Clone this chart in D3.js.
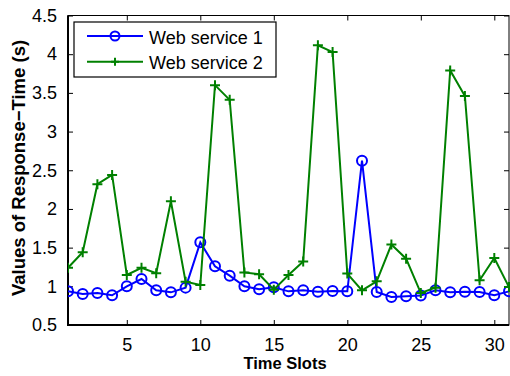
<!DOCTYPE html>
<html>
<head>
<meta charset="utf-8">
<script src="https://cdn.jsdelivr.net/npm/d3@7"></script>
<style>
  body { margin: 0; background: #fff; }
  svg text { font-family: "Liberation Sans", Arial, Helvetica, sans-serif; fill: #000; }
</style>
</head>
<body>
<div id="chart"></div>
<script>
// time slots and response times
var slots = d3.range(1, 32);
var ws1 = [0.935, 0.90, 0.913, 0.884, 1.0, 1.094, 0.948, 0.922, 0.983, 1.568,
           1.258, 1.138, 1.0, 0.961, 0.987, 0.935, 0.948, 0.93, 0.94, 0.935,
           2.624, 0.927, 0.862, 0.871, 0.88, 0.948, 0.922, 0.93, 0.927, 0.884, 0.935];
var ws2 = [1.24, 1.44, 2.32, 2.44, 1.146, 1.24, 1.17, 2.10, 1.06, 1.017,
           3.60, 3.41, 1.18, 1.155, 0.957, 1.146, 1.32, 4.114, 4.027, 1.164,
           0.948, 1.065, 1.539, 1.357, 0.913, 0.983, 3.79, 3.46, 1.078, 1.366, 0.99];
var xTicks = [5, 10, 15, 20, 25, 30];
var yTicks = [0.5, 1, 1.5, 2, 2.5, 3, 3.5, 4, 4.5];
var seriesNames = ["Web service 1", "Web service 2"];

var W = 510, H = 376;
var pl = 68, pr = 509, pt = 15.5, pb = 325;

var svg = d3.select("#chart").append("svg")
    .attr("width", W).attr("height", H);

var x = d3.scaleLinear().domain([1, 31]).range([pl, pr]);
var y = d3.scaleLinear().domain([0.5, 4.5]).range([pb, pt]);

// tick marks inside on all four sides (matlab box)
svg.append("g").attr("transform", "translate(0," + pb + ")")
    .call(d3.axisBottom(x).tickValues(xTicks).tickSize(-5).tickPadding(13))
    .call(function(g){
        g.select(".domain").remove();
        g.selectAll("line").attr("stroke", "#000");
        g.selectAll("text").style("font-size", "18px").attr("dy", "0.71em");
    });
svg.append("g").attr("transform", "translate(0," + pt + ")")
    .call(d3.axisTop(x).tickValues(xTicks).tickSize(-5).tickFormat(""))
    .call(function(g){ g.select(".domain").remove(); g.selectAll("line").attr("stroke", "#000"); });
svg.append("g").attr("transform", "translate(" + pl + ",0)")
    .call(d3.axisLeft(y).tickValues(yTicks).tickSize(-5).tickPadding(11).tickFormat(d3.format("")))
    .call(function(g){
        g.select(".domain").remove();
        g.selectAll("line").attr("stroke", "#000");
        g.selectAll("text").style("font-size", "18px");
    });
svg.append("g").attr("transform", "translate(" + pr + ",0)")
    .call(d3.axisRight(y).tickValues(yTicks).tickSize(-5).tickFormat(""))
    .call(function(g){ g.select(".domain").remove(); g.selectAll("line").attr("stroke", "#000"); });

svg.append("rect")
    .attr("x", pl).attr("y", pt)
    .attr("width", pr - pl).attr("height", pb - pt)
    .attr("fill", "none").attr("stroke", "#000").attr("stroke-width", 1);
// heavier left and bottom spines
svg.append("line").attr("x1", pl).attr("x2", pl).attr("y1", pt).attr("y2", pb + 1)
    .attr("stroke", "#000").attr("stroke-width", 2);
svg.append("line").attr("x1", pl - 1).attr("x2", pr).attr("y1", pb).attr("y2", pb)
    .attr("stroke", "#000").attr("stroke-width", 2);

var plot = svg.append("g");
plot.append("clipPath").attr("id", "clip").append("rect")
    .attr("x", pl).attr("y", pt - 10).attr("width", pr - pl + 1).attr("height", pb - pt + 20);
var area = plot.append("g").attr("clip-path", "url(#clip)");

var line = d3.line().x(function(d, i){ return x(slots[i]); }).y(function(d){ return y(d); });

area.append("path").datum(ws1).attr("d", line)
    .attr("fill", "none").attr("stroke", "#0000ff").attr("stroke-width", 2);
area.selectAll("circle.ws1").data(ws1).enter().append("circle")
    .attr("cx", function(d, i){ return x(slots[i]); })
    .attr("cy", function(d){ return y(d); })
    .attr("r", 5).attr("fill", "none").attr("stroke", "#0000ff").attr("stroke-width", 2);

area.append("path").datum(ws2).attr("d", line)
    .attr("fill", "none").attr("stroke", "#008000").attr("stroke-width", 2);
area.selectAll("path.ws2").data(ws2).enter().append("path")
    .attr("class", "ws2")
    .attr("transform", function(d, i){ return "translate(" + x(slots[i]) + "," + y(d) + ")"; })
    .attr("d", "M-5,0H5M0,-5V5")
    .attr("stroke", "#008000").attr("stroke-width", 2).attr("fill", "none");

// legend
var lg = svg.append("g");
lg.append("rect").attr("x", 74).attr("y", 22).attr("width", 202).attr("height", 55)
    .attr("fill", "#fff").attr("stroke", "#000").attr("stroke-width", 1.2);
var lgColors = ["#0000ff", "#008000"];
seriesNames.forEach(function(name, i){
    var ly = 36 + i * 25.7;
    lg.append("line").attr("x1", 87).attr("x2", 143).attr("y1", ly).attr("y2", ly)
        .attr("stroke", lgColors[i]).attr("stroke-width", 2);
    if (i === 0) {
        lg.append("circle").attr("cx", 115).attr("cy", ly).attr("r", 4.5)
            .attr("fill", "none").attr("stroke", lgColors[i]).attr("stroke-width", 2);
    } else {
        lg.append("path").attr("transform", "translate(115," + ly + ")")
            .attr("d", "M-4,0H4M0,-4V4").attr("stroke", lgColors[i]).attr("stroke-width", 2);
    }
    lg.append("text").attr("x", 149).attr("y", ly + 7.5)
        .style("font-size", "18px").text(name);
});

// axis titles
svg.append("text").attr("x", 285).attr("y", 369)
    .attr("text-anchor", "middle").style("font-size", "16.5px").style("font-weight", "bold")
    .text("Time Slots");
svg.append("text")
    .attr("transform", "translate(25,168) rotate(-90)")
    .attr("text-anchor", "middle").style("font-size", "18.5px").style("font-weight", "bold")
    .text("Values of Response\u2212Time (s)");
</script>
</body>
</html>
